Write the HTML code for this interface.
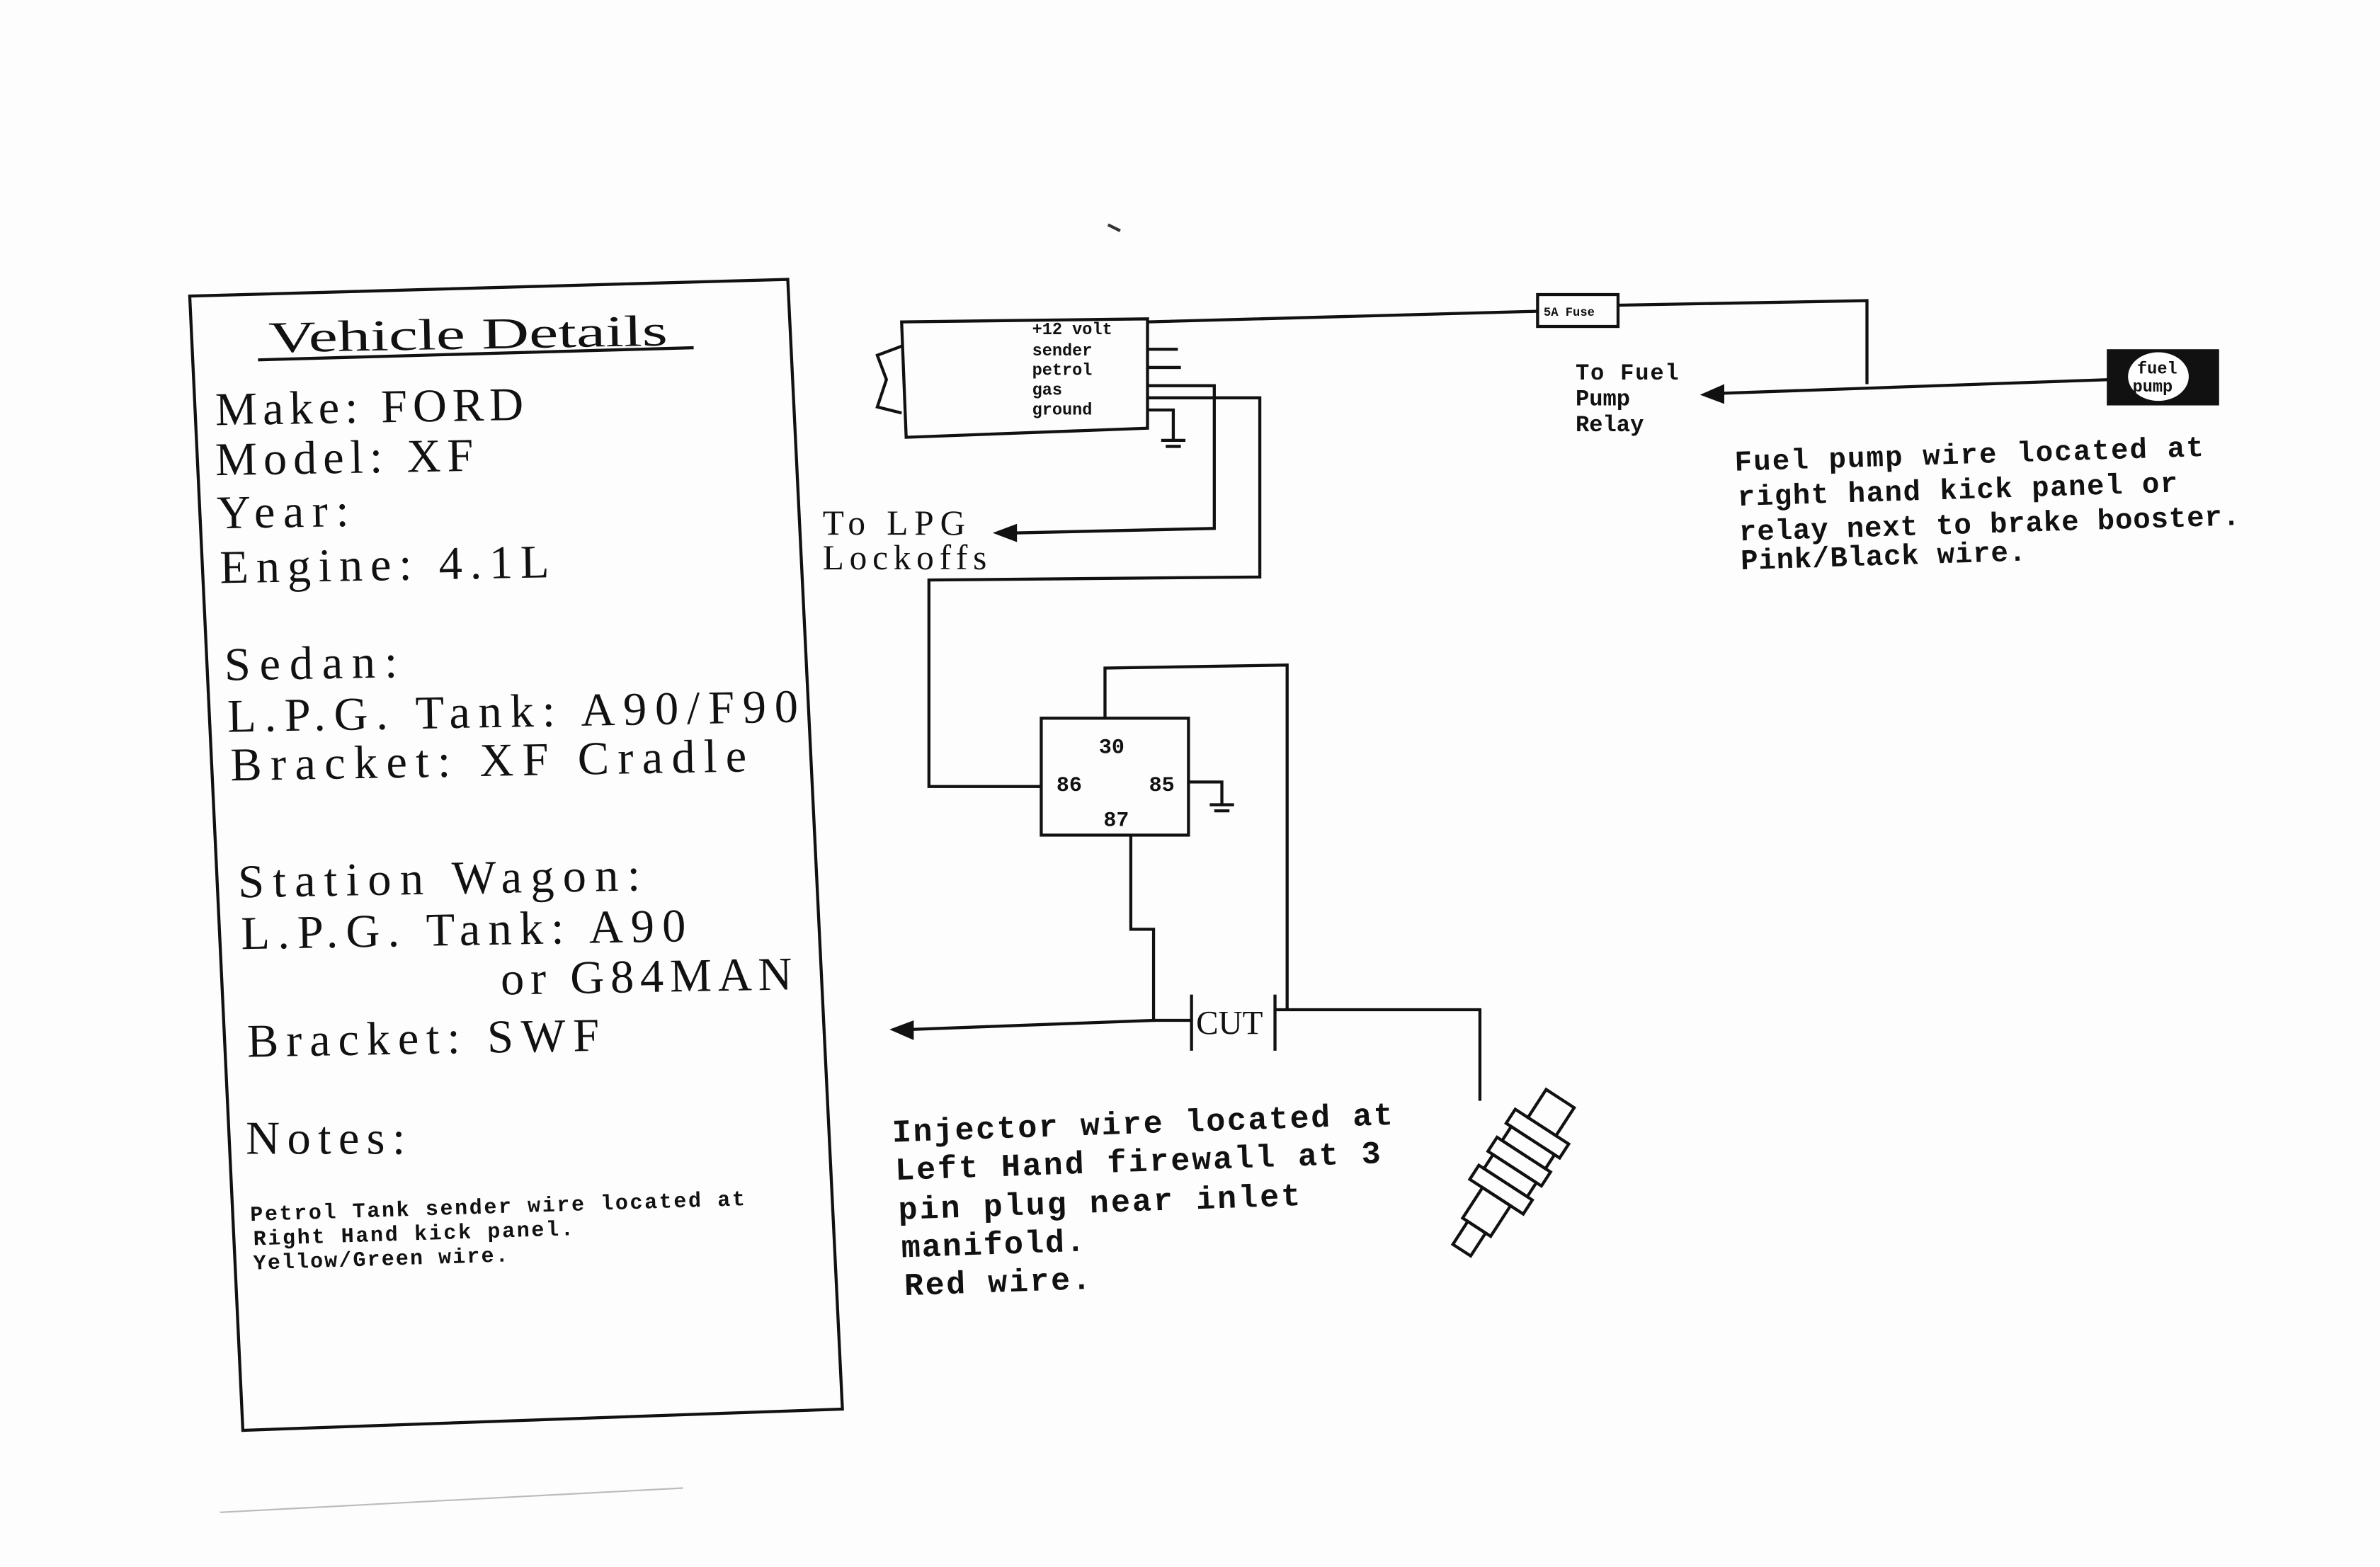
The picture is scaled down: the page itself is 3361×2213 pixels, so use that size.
<!DOCTYPE html>
<html><head><meta charset="utf-8"><style>
html,body{margin:0;padding:0;background:#fff;}
svg{display:block;}
.s{font-family:"Liberation Serif",serif;fill:#111;}
.m{font-family:"Liberation Mono",monospace;font-weight:bold;fill:#111;}
.w{stroke:#111;stroke-width:2;fill:none;}
</style></head><body>
<svg width="3361" height="2213" viewBox="0 0 1568 1032" preserveAspectRatio="none" xmlns="http://www.w3.org/2000/svg">
<rect width="1568" height="1032" fill="#fdfdfd"/>
<polygon points="125,195 519,184 555,928 160,942" class="w" stroke-width="2.2"/>
<text class="s" x="177" y="232" font-size="29" textLength="263" lengthAdjust="spacingAndGlyphs" transform="rotate(-1 177 232)">Vehicle Details</text>
<line x1="170" y1="237" x2="457" y2="229" class="w"/>
<text class="s" x="142" y="280" font-size="31" textLength="203" transform="rotate(-1 142 280)">Make:  FORD</text>
<text class="s" x="142" y="313" font-size="31" textLength="170" transform="rotate(-1 142 313)">Model:  XF</text>
<text class="s" x="143" y="348" font-size="31" textLength="87" transform="rotate(-1 143 348)">Year:</text>
<text class="s" x="145" y="384" font-size="31" textLength="217" transform="rotate(-1 145 384)">Engine:  4.1L</text>
<text class="s" x="148" y="448" font-size="31" textLength="114" transform="rotate(-1 148 448)">Sedan:</text>
<text class="s" x="150" y="482" font-size="31" textLength="376" transform="rotate(-1 150 482)">L.P.G.  Tank:  A90/F90</text>
<text class="s" x="152" y="514" font-size="31" textLength="340" transform="rotate(-1 152 514)">Bracket:  XF  Cradle</text>
<text class="s" x="157" y="591" font-size="31" textLength="265" transform="rotate(-1 157 591)">Station  Wagon:</text>
<text class="s" x="159" y="625" font-size="31" textLength="293" transform="rotate(-1 159 625)">L.P.G.  Tank:  A90</text>
<text class="s" x="330" y="655" font-size="31" textLength="192" transform="rotate(-1 330 655)">or  G84MAN</text>
<text class="s" x="163" y="696" font-size="31" textLength="232" transform="rotate(-1 163 696)">Bracket:  SWF</text>
<text class="s" x="162" y="760" font-size="31" textLength="105">Notes:</text>
<text class="m" x="165" y="804" font-size="14" textLength="326" transform="rotate(-1.8 165 804)">Petrol Tank sender wire located at</text>
<text class="m" x="167" y="820" font-size="14" textLength="211" transform="rotate(-1.8 167 820)">Right Hand kick panel.</text>
<text class="m" x="167" y="836" font-size="14" textLength="168" transform="rotate(-1.8 167 836)">Yellow/Green wire.</text>
<polygon points="594,212 756,210 756,282 597,288" class="w"/>
<path d="M594,228 L578,234 L584,250 L578,268 L594,272" class="w"/>
<text class="m" x="680" y="220" font-size="11">+12 volt</text>
<text class="m" x="680" y="234" font-size="11">sender</text>
<text class="m" x="680" y="247" font-size="11">petrol</text>
<text class="m" x="680" y="260" font-size="11">gas</text>
<text class="m" x="680" y="273" font-size="11">ground</text>
<path d="M756,212 L1013,205 M1066,201 L1230,198 L1230,253" class="w"/>
<rect x="1013" y="194" width="53" height="21" class="w" fill="#fff"/>
<text class="m" x="1017" y="208" font-size="8">5A Fuse</text>
<path d="M756,230 L776,230 M756,242 L778,242" class="w"/>
<path d="M756,270 L773,270 L773,290 M765,290 L781,290 M768,294 L778,294" class="w"/>
<path d="M756,254 L800,254 L800,348 L668,351" class="w"/>
<polygon points="654,351 670,345 670,357" fill="#111"/>
<path d="M756,262 L830,262 L830,380 L612,382 L612,518 L686,518" class="w"/>
<path d="M1390,250 L1135,259" class="w"/>
<polygon points="1120,260 1136,253 1136,266" fill="#111"/>
<rect x="1388" y="230" width="74" height="37" fill="#111"/>
<ellipse cx="1422" cy="248" rx="20" ry="16" fill="#fff"/>
<text class="m" x="1408" y="246" font-size="11">fuel</text>
<text class="m" x="1405" y="258" font-size="11">pump</text>
<text class="m" x="1038" y="250" font-size="15" textLength="68">To Fuel</text>
<text class="m" x="1038" y="267" font-size="15">Pump</text>
<text class="m" x="1038" y="284" font-size="15">Relay</text>
<text class="m" x="1143" y="310" font-size="19" textLength="309" transform="rotate(-1.8 1143 310)">Fuel pump wire located at</text>
<text class="m" x="1145" y="333" font-size="19" textLength="290" transform="rotate(-1.8 1145 333)">right hand kick panel or</text>
<text class="m" x="1146" y="356" font-size="19" textLength="330" transform="rotate(-1.8 1146 356)">relay next to brake booster.</text>
<text class="m" x="1147" y="375" font-size="19" textLength="188" transform="rotate(-1.8 1147 375)">Pink/Black wire.</text>
<text class="s" x="542" y="352" font-size="23" textLength="94">To LPG</text>
<text class="s" x="542" y="375" font-size="23" textLength="108">Lockoffs</text>
<rect x="686" y="473" width="97" height="77" class="w"/>
<text class="m" x="724" y="496" font-size="14">30</text>
<text class="m" x="696" y="521" font-size="14">86</text>
<text class="m" x="757" y="521" font-size="14">85</text>
<text class="m" x="727" y="544" font-size="14">87</text>
<path d="M783,515 L805,515 L805,530 M797,530 L813,530 M800,534 L810,534" class="w"/>
<path d="M728,473 L728,440 L848,438 L848,665" class="w"/>
<path d="M745,550 L745,612 L760,612 L760,672 L600,678" class="w"/>
<polygon points="586,678 602,672 602,685" fill="#111"/>
<path d="M785,655 L785,692 M840,655 L840,692 M760,672 L785,672 M840,665 L975,665 L975,725" class="w"/>
<text class="s" x="788" y="681" font-size="22">CUT</text>
<g transform="rotate(33 990 780)" class="w" fill="#fff">
<rect x="980" y="712" width="22" height="22"/>
<rect x="970" y="734" width="42" height="11"/>
<rect x="974" y="745" width="34" height="11"/>
<rect x="970" y="756" width="42" height="11"/>
<rect x="974" y="767" width="34" height="11"/>
<rect x="970" y="778" width="42" height="11"/>
<rect x="980" y="789" width="22" height="24"/>
<rect x="984" y="813" width="14" height="18"/>
</g>
<text class="m" x="588" y="752" font-size="21" textLength="330" transform="rotate(-2 588 752)">Injector wire located at</text>
<text class="m" x="590" y="777" font-size="21" textLength="320" transform="rotate(-2 590 777)">Left Hand firewall at 3</text>
<text class="m" x="592" y="803" font-size="21" textLength="265" transform="rotate(-2 592 803)">pin plug near inlet</text>
<text class="m" x="594" y="828" font-size="21" textLength="121" transform="rotate(-2 594 828)">manifold.</text>
<text class="m" x="596" y="853" font-size="21" textLength="123" transform="rotate(-2 596 853)">Red wire.</text>
<path d="M145,996 L450,980" stroke="#bbb" stroke-width="1"/>
<path d="M730,148 L738,152" stroke="#333" stroke-width="2"/>
</svg>
</body></html>
